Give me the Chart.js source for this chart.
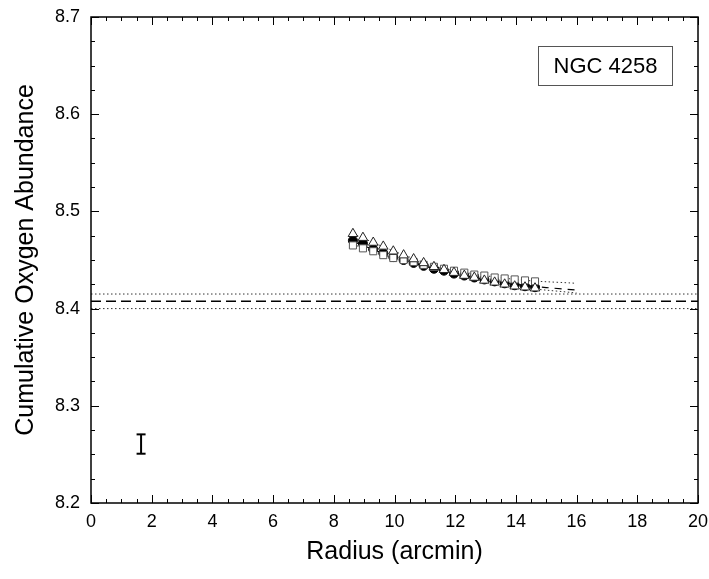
<!DOCTYPE html>
<html>
<head>
<meta charset="utf-8">
<script src="https://cdn.jsdelivr.net/npm/chart.js@4/dist/chart.umd.min.js"></script>
<style>
  html, body { margin: 0; padding: 0; background: #fff; }
  #wrap { width: 709px; height: 579px; }
</style>
</head>
<body>
<div id="wrap"><canvas id="c" width="709" height="579"></canvas></div>
<script>
// Radius (arcmin) of each annulus
const radius = [8.63, 8.96, 9.30, 9.63, 9.96, 10.30, 10.63, 10.96, 11.30, 11.63,
                11.96, 12.30, 12.63, 12.96, 13.30, 13.63, 13.96, 14.30, 14.63];
// Cumulative oxygen abundance, three calibrations
const filledCircles = [8.470, 8.467, 8.461, 8.457, 8.453, 8.450, 8.447, 8.444, 8.441, 8.439,
                       8.436, 8.434, 8.432, 8.430, 8.428, 8.426, 8.424, 8.423, 8.422];
const openTriangles = [8.477, 8.473, 8.468, 8.464, 8.459, 8.455, 8.451, 8.447, 8.443, 8.440,
                       8.437, 8.434, 8.432, 8.429, 8.427, 8.425, 8.423, 8.422, 8.421];
const openSquares   = [8.465, 8.462, 8.459, 8.455, 8.452, 8.450, 8.448, 8.445, 8.443, 8.441,
                       8.439, 8.437, 8.435, 8.434, 8.432, 8.431, 8.430, 8.429, 8.428];

// fitted curves, extended to 16 arcmin
const fitX         = [8.63, 10, 12, 14, 16];
const fitCircles   = [8.469, 8.453, 8.436, 8.425, 8.419];
const fitSquares   = [8.466, 8.452, 8.439, 8.430, 8.426];
const fitTriangles = [8.477, 8.459, 8.437, 8.423, 8.416];

// global value and its range
const globalX = [0, 20];
const globalMean = 8.4075;
const globalLow = 8.400;
const globalHigh = 8.415;

// typical error bar
const errX = 1.65;
const errY = [8.2507, 8.2706];

const xTicks = { min: 0, max: 20, step: 2, minor: 0.5 };
const yTicks = { min: 8.2, max: 8.7, step: 0.1, minor: 0.025 };

const labelText = 'NGC 4258';

const pts = (xs, ys) => xs.map((x, i) => ({ x: x, y: ys[i] }));

const FONT = 'Liberation Sans, Arial, sans-serif';

const frame = {
    id: 'frame',
    afterDraw(chart) {
        const { ctx, chartArea: a, scales: { x, y } } = chart;
        ctx.save();
        ctx.strokeStyle = '#000';
        ctx.lineWidth = 1.5;
        ctx.strokeRect(a.left, a.top, a.right - a.left, a.bottom - a.top);

        ctx.lineWidth = 1;
        ctx.beginPath();
        for (let v = xTicks.min; v <= xTicks.max + 1e-9; v += xTicks.minor) {
            const major = Math.abs(v / xTicks.step - Math.round(v / xTicks.step)) < 1e-6;
            const len = major ? 8 : 4;
            const px = Math.round(x.getPixelForValue(v)) + 0.5;
            ctx.moveTo(px, a.bottom); ctx.lineTo(px, a.bottom - len);
            ctx.moveTo(px, a.top); ctx.lineTo(px, a.top + len);
        }
        for (let v = yTicks.min; v <= yTicks.max + 1e-9; v += yTicks.minor) {
            const k = (v - yTicks.min) / yTicks.step;
            const major = Math.abs(k - Math.round(k)) < 1e-6;
            const len = major ? 8 : 4;
            const py = Math.round(y.getPixelForValue(v)) + 0.5;
            ctx.moveTo(a.left, py); ctx.lineTo(a.left + len, py);
            ctx.moveTo(a.right, py); ctx.lineTo(a.right - len, py);
        }
        ctx.stroke();

        // label box
        ctx.fillStyle = '#fff';
        ctx.fillRect(538, 46, 135, 40);
        ctx.strokeStyle = '#555';
        ctx.lineWidth = 1;
        ctx.strokeRect(538.5, 46.5, 134, 39);
        ctx.fillStyle = '#000';
        ctx.font = '22px ' + FONT;
        ctx.textAlign = 'center';
        ctx.textBaseline = 'middle';
        ctx.fillText(labelText, 605.5, 67);
        ctx.restore();
    }
};

new Chart(document.getElementById('c'), {
    type: 'scatter',
    data: {
        datasets: [
            {
                label: 'mean', data: pts(globalX, [globalMean, globalMean]), showLine: true,
                borderColor: '#000', borderWidth: 1.5, borderDash: [10, 5], pointRadius: 0, order: 10
            },
            {
                label: 'low', data: pts(globalX, [globalLow, globalLow]), showLine: true,
                borderColor: '#333', borderWidth: 1, borderDash: [1.5, 2.5], pointRadius: 0, order: 10
            },
            {
                label: 'high', data: pts(globalX, [globalHigh, globalHigh]), showLine: true,
                borderColor: '#333', borderWidth: 1, borderDash: [1.5, 2.5], pointRadius: 0, order: 10
            },
            {
                label: 'fit circles', data: pts(fitX, fitCircles), showLine: true, tension: 0.4,
                borderColor: '#000', borderWidth: 1.2, borderDash: [7, 6], pointRadius: 0, order: 9
            },
            {
                label: 'fit squares', data: pts(fitX, fitSquares), showLine: true, tension: 0.4,
                borderColor: '#333', borderWidth: 1, borderDash: [1.5, 2.5], pointRadius: 0, order: 9
            },
            {
                label: 'fit triangles', data: pts(fitX, fitTriangles), showLine: true, tension: 0.4,
                borderColor: '#333', borderWidth: 1, borderDash: [1.5, 2.5], pointRadius: 0, order: 9
            },
            {
                label: 'circles', data: pts(radius, filledCircles),
                pointStyle: 'circle', pointRadius: 4.5, backgroundColor: '#000',
                borderColor: '#000', borderWidth: 1, order: 3
            },
            {
                label: 'squares', data: pts(radius, openSquares),
                pointStyle: 'rect', pointRadius: 5, backgroundColor: '#fff',
                borderColor: '#555', borderWidth: 1, order: 2
            },
            {
                label: 'triangles', data: pts(radius, openTriangles),
                pointStyle: 'triangle', pointRadius: 5.5, backgroundColor: '#fff',
                borderColor: '#222', borderWidth: 1, order: 1
            },
            {
                label: 'error', data: pts([errX, errX], errY), showLine: true,
                borderColor: '#000', borderWidth: 2, pointStyle: 'line', pointRadius: 4.5,
                pointBorderWidth: 2, pointBorderColor: '#000', order: 0
            }
        ]
    },
    options: {
        responsive: false,
        animation: false,
        layout: { padding: { top: 17, right: 11, left: 0, bottom: 0 } },
        plugins: {
            legend: { display: false },
            tooltip: { enabled: false }
        },
        scales: {
            x: {
                type: 'linear', min: xTicks.min, max: xTicks.max,
                afterFit: (s) => { s.height = 579 - 503; s.paddingLeft = 0; s.paddingRight = 0; },
                grid: { display: false, drawTicks: false },
                border: { display: false },
                ticks: { stepSize: xTicks.step, padding: 8, color: '#000', font: { family: FONT, size: 18 } },
                title: { display: true, text: 'Radius (arcmin)', color: '#000', padding: { top: 4, bottom: 12 },
                         font: { family: FONT, size: 25 } }
            },
            y: {
                type: 'linear', min: yTicks.min, max: yTicks.max,
                afterFit: (s) => { s.width = 91; s.paddingTop = 0; s.paddingBottom = 0; },
                grid: { display: false, drawTicks: false },
                border: { display: false },
                ticks: { stepSize: yTicks.step, padding: 11, color: '#000', font: { family: FONT, size: 18 },
                         callback: (v) => v.toFixed(1) },
                title: { display: true, text: 'Cumulative Oxygen Abundance', color: '#000',
                         padding: { top: 11, bottom: 0 }, font: { family: FONT, size: 25 } }
            }
        }
    },
    plugins: [frame]
});
</script>
</body>
</html>
